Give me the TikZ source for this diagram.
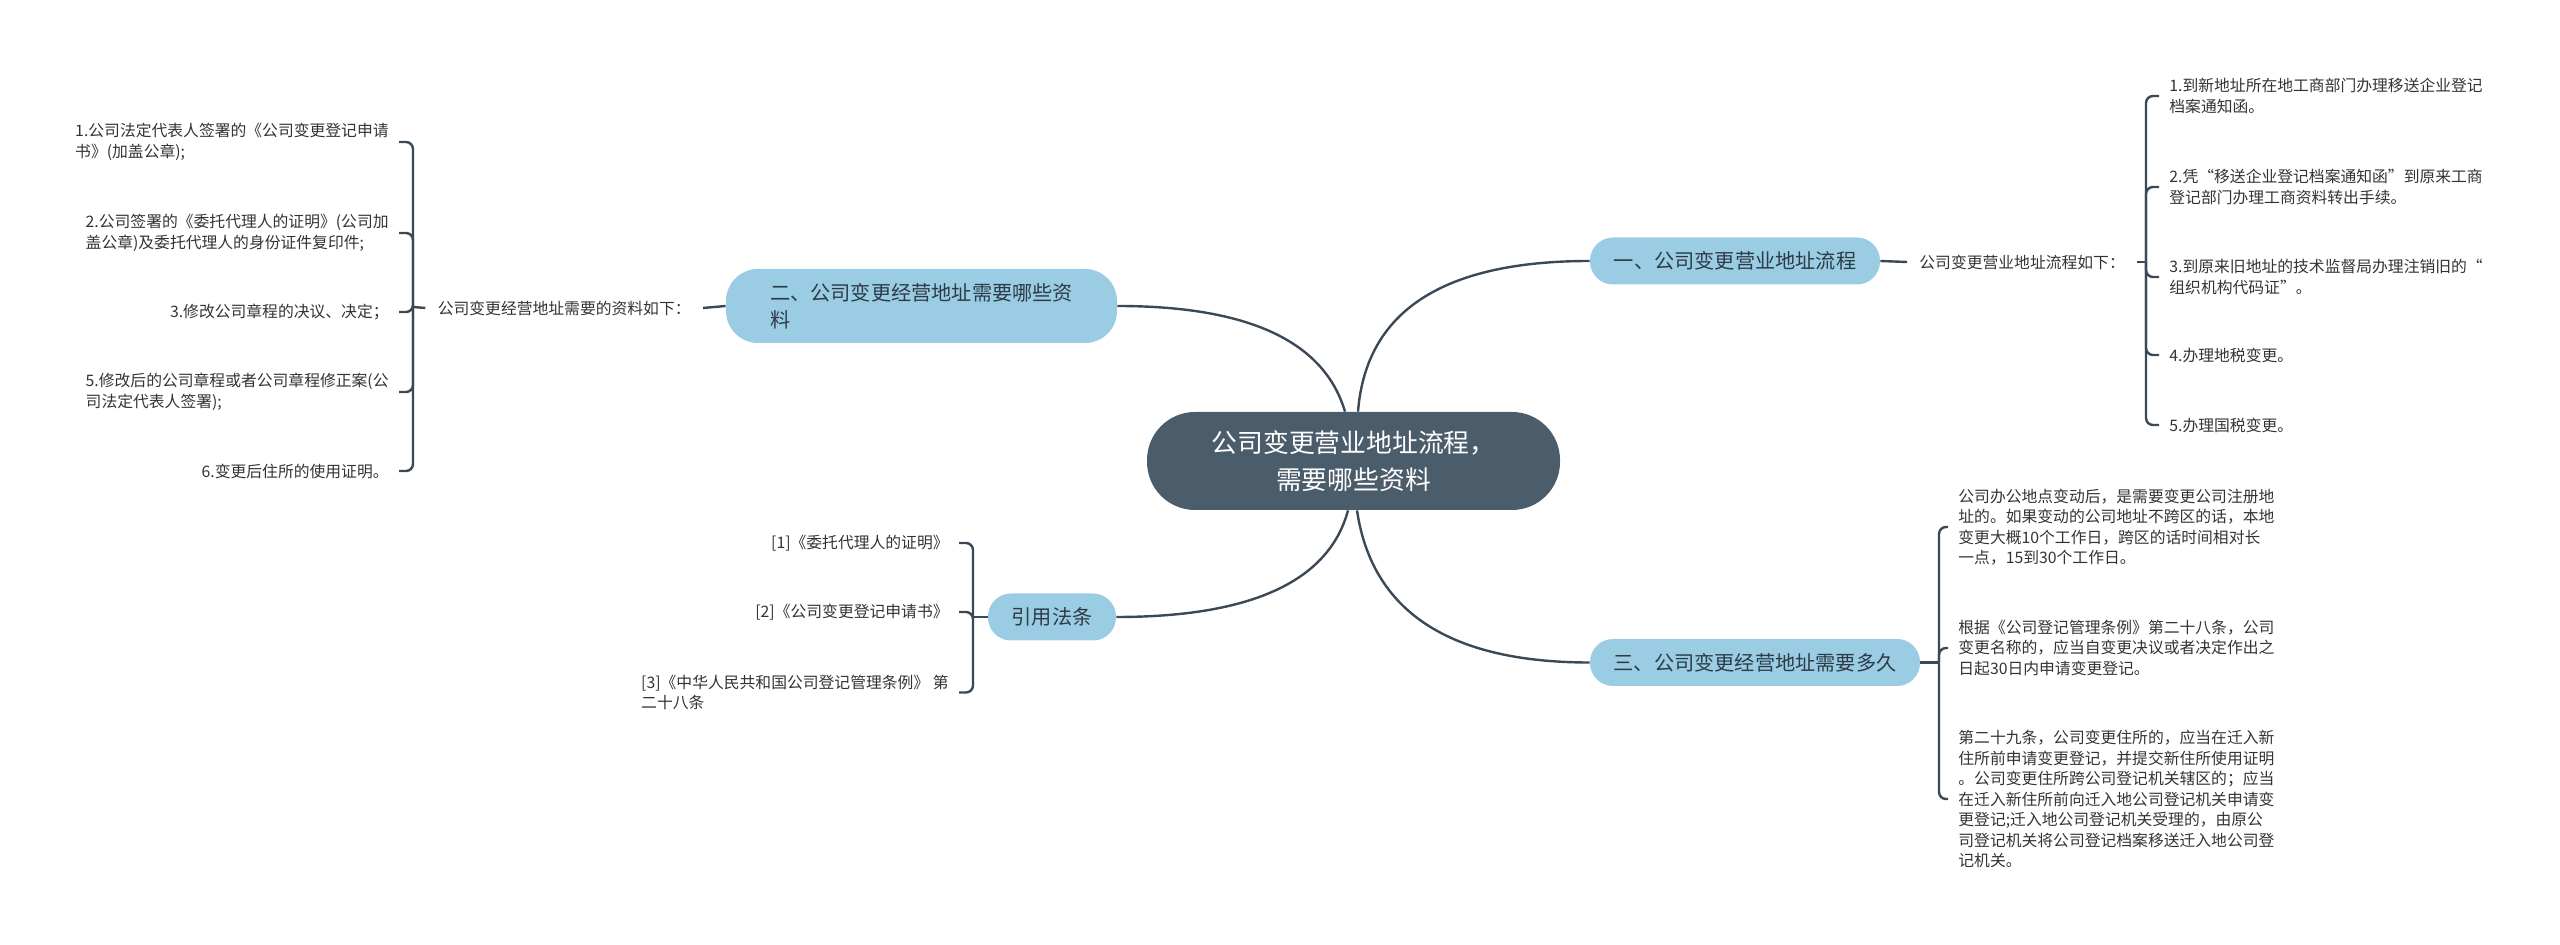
\documentclass[tikz,border=0pt]{standalone}
\usepackage{fontspec}
\newfontfamily\cjk{Noto Sans CJK SC}
\usetikzlibrary{calc}

\definecolor{rootfill}{HTML}{4B5C6B}
\definecolor{topicfill}{HTML}{9ACCE4}
\definecolor{linecol}{HTML}{3B4957}
\definecolor{topictext}{HTML}{2E3B47}
\definecolor{leaftext}{HTML}{333333}

\tikzset{
  root/.style={fill=rootfill, text=white, rounded corners=24pt, inner sep=0pt,
    minimum width=206.5pt, minimum height=49pt, align=center,
    font=\cjk\fontsize{12.9}{18.5}\selectfont},
  topic/.style={fill=topicfill, text=topictext, rounded corners=11.5pt, inner sep=0pt,
    minimum height=23.5pt, font=\cjk\fontsize{10.1}{13.5}\selectfont},
  lead/.style={text=leaftext, inner xsep=6pt, inner ysep=2pt,
    font=\cjk\fontsize{7.9}{10.25}\selectfont},
  leaf/.style={text=leaftext, inner xsep=5pt, inner ysep=2pt, align=left,
    font=\cjk\fontsize{7.9}{10.25}\selectfont},
  branch/.style={draw=linecol, line width=1.2pt},
}

\begin{document}
\begin{tikzpicture}[x=0.5pt,y=-0.5pt]
\useasboundingbox (0,0) rectangle (2560,945);

% centre and main topics
\node[root] (root) at (1353.5,461) {公司变更营业地址流程，\\需要哪些资料};
\node[topic, minimum width=145pt] (s1) at (1735,261) {一、公司变更营业地址流程};
\node[topic, minimum width=195.5pt, minimum height=37pt, rounded corners=16pt, align=left] (s2) at (921.5,306) {二、公司变更经营地址需要哪些资\\料};
\node[topic, minimum width=165pt] (s3) at (1755,662.5) {三、公司变更经营地址需要多久};
\node[topic, minimum width=64pt] (s4) at (1052,617) {引用法条};

\draw[branch] ([xshift=2.25pt]root.north) .. controls (1366,311) and (1443,261) .. (s1.west);
\draw[branch] ([xshift=-4.25pt]root.north) .. controls (1324,341) and (1248,306) .. (s2.east);
\draw[branch] ([xshift=-2.75pt]root.south) .. controls (1329,581) and (1252,617) .. (s4.east);
\draw[branch] ([xshift=1.75pt]root.south) .. controls (1372,612) and (1450,662.5) .. (s3.west);

% branch one
\node[lead, anchor=west] (d1) at (1907,262) {公司变更营业地址流程如下：};
\coordinate (b1) at (2146,262);
\node[leaf, anchor=west] (r1) at (2159,96) {1.到新地址所在地工商部门办理移送企业登记\\档案通知函。};
\node[leaf, anchor=west] (r2) at (2159,187) {2.凭“移送企业登记档案通知函”到原来工商\\登记部门办理工商资料转出手续。};
\node[leaf, anchor=west] (r3) at (2159,277) {3.到原来旧地址的技术监督局办理注销旧的“\\组织机构代码证”。};
\node[leaf, anchor=west] (r4) at (2159,355) {4.办理地税变更。};
\node[leaf, anchor=west] (r5) at (2159,425) {5.办理国税变更。};
\draw[branch] (s1.east) -- (d1.west);
\draw[branch] (d1.east) -- (b1);
\foreach \n in {r1,r2,r3,r4,r5}
  \draw[branch, rounded corners=3.5pt] (b1) |- (\n.west);

% branch two
\node[lead, anchor=east] (d2) at (703,308) {公司变更经营地址需要的资料如下：};
\coordinate (b2) at (413,307);
\node[leaf, anchor=east] (l1) at (399,142) {1.公司法定代表人签署的《公司变更登记申请\\书》(加盖公章);};
\node[leaf, anchor=east] (l2) at (399,233) {2.公司签署的《委托代理人的证明》(公司加\\盖公章)及委托代理人的身份证件复印件;};
\node[leaf, anchor=east] (l3) at (399,312) {3.修改公司章程的决议、决定；};
\node[leaf, anchor=east] (l5) at (399,392) {5.修改后的公司章程或者公司章程修正案(公\\司法定代表人签署);};
\node[leaf, anchor=east] (l6) at (399,471) {6.变更后住所的使用证明。};
\draw[branch] (s2.west) -- (d2.east);
\draw[branch] (d2.west) -- (b2);
\foreach \n in {l1,l2,l3,l5,l6}
  \draw[branch, rounded corners=3.5pt] (b2) |- (\n.east);

% branch three
\coordinate (b3) at (1939,662.5);
\node[leaf, anchor=west] (t1) at (1948,527) {公司办公地点变动后，是需要变更公司注册地\\址的。如果变动的公司地址不跨区的话，本地\\变更大概10个工作日，跨区的话时间相对长\\一点，15到30个工作日。};
\node[leaf, anchor=west] (t2) at (1948,648) {根据《公司登记管理条例》第二十八条，公司\\变更名称的，应当自变更决议或者决定作出之\\日起30日内申请变更登记。};
\node[leaf, anchor=west] (t3) at (1948,799) {第二十九条，公司变更住所的，应当在迁入新\\住所前申请变更登记，并提交新住所使用证明\\。公司变更住所跨公司登记机关辖区的；应当\\在迁入新住所前向迁入地公司登记机关申请变\\更登记;迁入地公司登记机关受理的，由原公\\司登记机关将公司登记档案移送迁入地公司登\\记机关。};
\draw[branch] (s3.east) -- (b3);
\foreach \n in {t1,t2,t3}
  \draw[branch, rounded corners=3.5pt] (b3) |- (\n.west);

% references
\coordinate (b4) at (973,617);
\node[leaf, anchor=east] (q1) at (959,543) {[1]《委托代理人的证明》};
\node[leaf, anchor=east] (q2) at (959,612) {[2]《公司变更登记申请书》};
\node[leaf, anchor=east] (q3) at (959,692.5) {[3]《中华人民共和国公司登记管理条例》 第\\二十八条};
\draw[branch] (s4.west) -- (b4);
\foreach \n in {q1,q2,q3}
  \draw[branch, rounded corners=3.5pt] (b4) |- (\n.east);
\end{tikzpicture}
\end{document}
